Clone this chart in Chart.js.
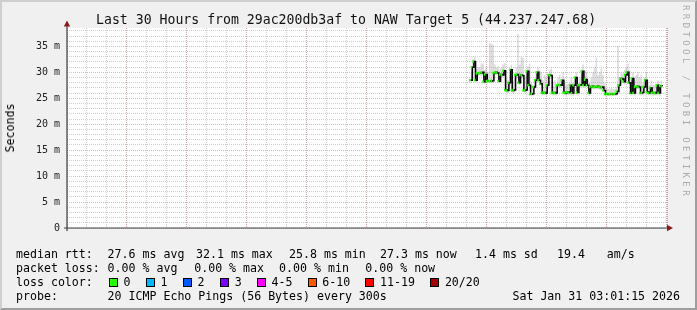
<!DOCTYPE html>
<html>
<head>
<meta charset="utf-8">
<script src="https://cdn.jsdelivr.net/npm/chart.js@4.4.1/dist/chart.umd.min.js"></script>
<style>
  body { margin: 0; background: #fff; }
  #wrap { position: relative; width: 697px; height: 310px; background: #f0f0f0; overflow: hidden; font-family: "DejaVu Sans Mono", monospace; color: #000; }
  #frame { position: absolute; left: 0; top: 0; width: 697px; height: 310px; box-sizing: border-box; border-top: 2px solid #cfcfcf; border-left: 2px solid #cfcfcf; border-right: 2px solid #9e9e9e; border-bottom: 2px solid #9e9e9e; pointer-events: none; }
  canvas { position: absolute; left: 0; top: 0; }
  .t { position: absolute; white-space: pre; font-size: 11.6px; line-height: 14px; }
  .sw { position: absolute; width: 7px; height: 7px; border: 1px solid #000; }
  #title { position: absolute; left: 96px; top: 12px; font-size: 13.2px; line-height: 16px; white-space: pre; color: #111; }
  #ylab { position: absolute; left: 10px; top: 128px; font-size: 11.6px; line-height: 14px; transform: translate(-50%, -50%) rotate(-90deg); white-space: pre; }
  #mark { position: absolute; left: 681px; top: 5px; writing-mode: vertical-rl; font-size: 9px; letter-spacing: 3.4px; color: #ababab; white-space: pre; }
</style>
</head>
<body>
<div id="wrap">
  <canvas id="cvs_smoke" width="697" height="310"></canvas>
  <div id="title">Last 30 Hours from 29ac200db3af to NAW Target 5 (44.237.247.68)</div>
  <div id="ylab">Seconds</div>
  <div id="mark">RRDTOOL / TOBI OETIKER</div>

  <div class="t" style="left:16px;top:247px">median rtt:</div>
  <div class="t" style="left:107.6px;top:247px">27.6 ms avg</div>
  <div class="t" style="left:196px;top:247px">32.1 ms max</div>
  <div class="t" style="left:289px;top:247px">25.8 ms min</div>
  <div class="t" style="left:380px;top:247px">27.3 ms now</div>
  <div class="t" style="left:475px;top:247px">1.4 ms sd</div>
  <div class="t" style="left:557px;top:247px">19.4</div>
  <div class="t" style="left:606.7px;top:247px">am/s</div>

  <div class="t" style="left:16px;top:261px">packet loss:</div>
  <div class="t" style="left:107.6px;top:261px">0.00 % avg</div>
  <div class="t" style="left:194.2px;top:261px">0.00 % max</div>
  <div class="t" style="left:279.1px;top:261px">0.00 % min</div>
  <div class="t" style="left:365.3px;top:261px">0.00 % now</div>

  <div class="t" style="left:16px;top:275px">loss color:</div>
  <div id="lossLegend"></div>

  <div class="t" style="left:16px;top:289px">probe:</div>
  <div class="t" style="left:107.6px;top:289px">20 ICMP Echo Pings (56 Bytes) every 300s</div>
  <div class="t" style="right:17px;top:289px">Sat Jan 31 03:01:15 2026</div>

  <div id="frame"></div>
</div>
<script>
// amostras a cada 5 min, primeira em Fri 17:15 (horas contadas a partir de Fri 00:00)
const startHour = 17.25;
const stepHours = 5 / 60;

// mediana do rtt (ms)
const median = [
  28.5, 31.0, 32.1, 28.5, 29.8, 29.9, 29.9, 30.0, 28.2, 29.6,
  28.3, 28.4, 28.3, 28.4, 29.9, 30.0, 29.9, 28.3, 29.6, 29.5,
  30.3, 26.6, 26.5, 28.0, 30.5, 26.5, 26.6, 29.5, 29.6, 28.0,
  29.5, 29.4, 26.5, 26.6, 30.2, 27.5, 25.8, 25.9, 27.2, 28.5,
  30.0, 28.5, 27.8, 26.0, 26.1, 26.0, 27.5, 29.5, 29.4, 26.0,
  26.1, 26.0, 27.5, 27.6, 27.5, 28.5, 26.1, 26.0, 26.2, 26.1,
  27.5, 26.0, 27.5, 29.0, 26.1, 27.5, 27.6, 30.2, 27.5, 28.6,
  27.5, 26.0, 27.2, 27.3, 27.2, 27.2, 27.3, 27.2, 27.1, 27.2,
  26.5, 25.8, 25.9, 25.8, 25.8, 25.9, 25.8, 25.9, 26.3, 27.5,
  28.8, 28.7, 28.2, 29.5, 30.0, 28.0, 26.0, 28.8, 26.0, 27.2,
  27.3, 27.2, 26.0, 26.1, 27.2, 28.5, 26.2, 26.0, 27.0, 26.0,
  26.1, 26.0, 27.5, 26.0, 27.4, 27.3
];

// fumaça: maior e menor ping de cada amostra (ms)
const smokeHi = [
  30.0, 32.5, 33.0, 30.5, 31.0, 31.0, 31.7, 31.7, 30.5, 31.0,
  30.0, 35.7, 35.5, 35.3, 31.5, 31.0, 31.2, 30.5, 31.0, 31.5,
  31.8, 29.0, 28.5, 29.5, 31.5, 28.5, 29.0, 31.0, 37.4, 31.5,
  33.0, 32.8, 29.5, 29.0, 31.2, 31.7, 28.0, 27.5, 28.5, 30.0,
  31.0, 30.5, 30.0, 28.5, 29.5, 29.0, 29.5, 30.5, 30.8, 28.0,
  28.5, 27.5, 29.0, 29.5, 28.5, 30.0, 28.0, 27.5, 27.8, 28.0,
  29.0, 28.0, 29.0, 30.0, 28.0, 29.0, 29.5, 31.5, 30.5, 30.0,
  28.5, 28.0, 29.0, 30.0, 31.0, 32.9, 29.5, 30.0, 30.8, 29.5,
  28.0, 27.0, 26.8, 26.8, 27.0, 26.8, 26.8, 27.2, 35.1, 29.0,
  30.0, 29.8, 30.5, 31.0, 31.7, 30.5, 28.0, 30.0, 28.5, 29.5,
  30.0, 29.0, 29.5, 28.0, 29.0, 30.0, 28.5, 27.5, 28.5, 27.5,
  27.5, 27.8, 28.5, 27.5, 28.5, 28.5
];
const smokeLo = [
  28.0, 28.5, 29.0, 28.0, 29.3, 29.4, 29.3, 29.5, 27.8, 28.8,
  27.9, 28.0, 27.9, 28.0, 29.4, 29.5, 29.4, 27.9, 29.0, 29.0,
  29.6, 26.2, 26.0, 27.3, 29.5, 26.0, 26.1, 28.8, 29.0, 27.5,
  28.8, 28.7, 26.0, 26.1, 29.2, 27.0, 25.4, 25.5, 26.7, 28.0,
  29.3, 28.0, 27.3, 25.5, 25.7, 25.5, 27.0, 28.8, 28.7, 25.5,
  25.6, 25.5, 27.0, 27.1, 27.0, 27.8, 25.6, 25.5, 25.7, 25.6,
  27.0, 25.5, 27.0, 28.3, 25.6, 27.0, 27.1, 29.4, 27.0, 28.0,
  27.0, 25.5, 26.7, 26.8, 26.7, 26.7, 26.8, 26.7, 26.6, 26.7,
  26.0, 25.4, 25.5, 25.4, 25.4, 25.5, 25.4, 25.5, 25.8, 27.0,
  28.2, 28.1, 27.7, 28.9, 29.3, 27.5, 25.5, 28.2, 25.5, 26.7,
  26.8, 26.7, 25.5, 25.6, 26.7, 27.9, 25.7, 25.5, 26.5, 25.5,
  25.6, 25.5, 27.0, 25.5, 26.9, 26.8
];

// eixo x
const tickHours = [0, 6, 12, 18, 24];
const tickLabels = ["Fri 00:00", "Fri 06:00", "Fri 12:00", "Fri 18:00", "Sat 00:00"];

// legenda de perda
const lossNames = ["0", "1", "2", "3", "4-5", "6-10", "11-19", "20/20"];
const lossColors = ["#26ff00", "#00b8ff", "#0059ff", "#7a00ff", "#ff00ff", "#ff5a00", "#ff0000", "#a00000"];
const lossX = [108.9, 145.8, 182.7, 220, 256.9, 307.6, 365.3, 430.2];

var lossHtml = "";
for (let i = 0; i < lossNames.length; i++) {
  lossHtml += `<div class="sw" style="left:${lossX[i]}px;top:277.5px;background:${lossColors[i]}"></div>`;
  lossHtml += `<div class="t" style="left:${lossX[i] + 14.7}px;top:275px">${lossNames[i]}</div>`;
}
document.getElementById("lossLegend").innerHTML = lossHtml;

function pontos(lista, desloc) {
  return lista.map((v, i) => ({ x: startHour + i * stepHours + desloc, y: v }));
}

const gridMenor = "rgba(160,160,160,0.5)";
const gridMaior = "rgba(240,130,130,0.65)";

const fundoPlot = {
  id: "fundoPlot",
  beforeDraw(chart) {
    const a = chart.chartArea;
    const ctx = chart.ctx;
    ctx.save();
    ctx.fillStyle = "#ffffff";
    ctx.fillRect(a.left, a.top, a.right - a.left, a.bottom - a.top);
    ctx.restore();
  },
  afterDraw(chart) {
    const a = chart.chartArea;
    const ctx = chart.ctx;
    ctx.save();
    ctx.strokeStyle = "#404040";
    ctx.lineWidth = 1.2;
    ctx.beginPath();
    ctx.moveTo(a.left, a.bottom + 3);
    ctx.lineTo(a.left, a.top - 2);
    ctx.moveTo(a.left - 3, a.bottom);
    ctx.lineTo(a.right + 1, a.bottom);
    ctx.stroke();
    ctx.fillStyle = "#8b1a1a";
    ctx.beginPath();
    ctx.moveTo(a.left, a.top - 7.5);
    ctx.lineTo(a.left - 3.2, a.top - 1.5);
    ctx.lineTo(a.left + 3.2, a.top - 1.5);
    ctx.closePath();
    ctx.fill();
    ctx.beginPath();
    ctx.moveTo(a.right + 6, a.bottom);
    ctx.lineTo(a.right, a.bottom - 3.2);
    ctx.lineTo(a.right, a.bottom + 3.2);
    ctx.closePath();
    ctx.fill();
    ctx.restore();
  }
};

new Chart(document.getElementById("cvs_smoke"), {
  type: "line",
  data: {
    datasets: [
      {
        label: "verde",
        data: pontos(median, -stepHours / 2),
        showLine: false,
        pointStyle: "line",
        pointRadius: 0.8,
        pointBorderWidth: 2.5,
        pointBorderColor: "#26ff00",
        pointBackgroundColor: "#26ff00",
        order: 0,
      },
      {
        label: "mediana",
        data: pontos(median, 0),
        stepped: "before",
        borderColor: "#000000",
        borderWidth: 1.5,
        pointRadius: 0,
        fill: false,
        order: 1,
      },
      {
        label: "alto",
        data: pontos(smokeHi, 0),
        stepped: "before",
        borderWidth: 0,
        pointRadius: 0,
        backgroundColor: "rgba(150,150,150,0.32)",
        fill: 3,
        order: 2,
      },
      {
        label: "baixo",
        data: pontos(smokeLo, 0),
        stepped: "before",
        borderWidth: 0,
        pointRadius: 0,
        fill: false,
        order: 3,
      },
    ],
  },
  options: {
    responsive: false,
    animation: false,
    events: [],
    layout: { padding: { left: 0, right: 30, top: 28, bottom: 62 } },
    plugins: { legend: { display: false }, tooltip: { enabled: false }, title: { display: false } },
    scales: {
      x: {
        type: "linear",
        position: "bottom",
        min: -2.935,
        max: 27.075,
        bounds: "data",
        afterFit: (s) => { s.height = 20; },
        border: { display: false, dash: [1, 1] },
        grid: { color: gridMaior, lineWidth: 1, drawTicks: false },
        ticks: {
          stepSize: 3,
          includeBounds: false,
          autoSkip: false,
          maxRotation: 0,
          padding: 0,
          color: "#222",
          font: { family: "DejaVu Sans Mono", size: 10 },
          callback: (v) => {
            const k = tickHours.indexOf(v);
            return k >= 0 ? tickLabels[k] : "";
          },
        },
      },
      x2: {
        type: "linear",
        position: "top",
        min: -2.935,
        max: 27.075,
        bounds: "data",
        afterFit: (s) => { s.height = 0; },
        border: { display: false, dash: [1, 1] },
        grid: {
          drawTicks: false,
          color: (c) => (c.tick && c.tick.value % 3 === 0 ? "rgba(0,0,0,0)" : gridMenor),
        },
        ticks: { stepSize: 1, includeBounds: false, autoSkip: false, display: false },
      },
      y: {
        type: "linear",
        position: "left",
        min: 0,
        max: 38.55,
        bounds: "data",
        afterFit: (s) => { s.width = 67; },
        border: { display: false, dash: [1, 1] },
        grid: { color: gridMaior, drawTicks: false },
        ticks: {
          stepSize: 5,
          includeBounds: false,
          autoSkip: false,
          padding: 7,
          color: "#222",
          font: { family: "DejaVu Sans Mono", size: 10 },
          callback: (v) => (v === 0 ? "0" : v + " m"),
        },
      },
      y2: {
        type: "linear",
        position: "right",
        min: 0,
        max: 38.55,
        bounds: "data",
        afterFit: (s) => { s.width = 0; },
        border: { display: false, dash: [1, 1] },
        grid: {
          drawTicks: false,
          color: (c) => (c.tick && c.tick.value % 5 === 0 ? "rgba(0,0,0,0)" : gridMenor),
        },
        ticks: { stepSize: 1, includeBounds: false, autoSkip: false, display: false },
      },
    },
  },
  plugins: [fundoPlot],
});
</script>
</body>
</html>
